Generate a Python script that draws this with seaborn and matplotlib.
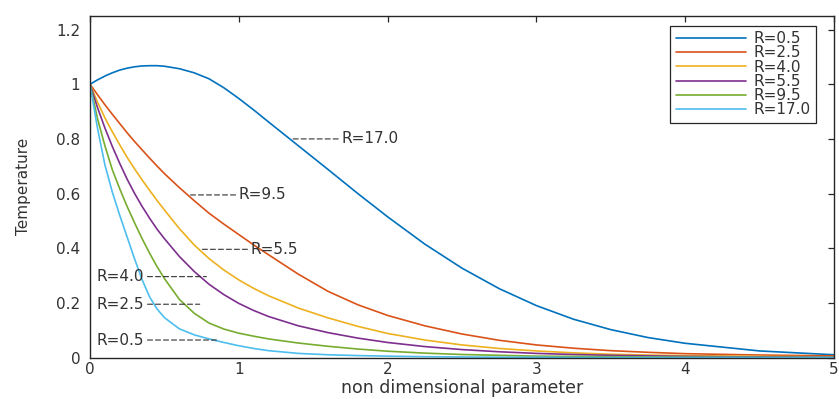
import numpy as np
import pandas as pd
import matplotlib
matplotlib.use("Agg")
import matplotlib.pyplot as plt
import seaborn as sns

# non dimensional parameter (shared abscissa of every profile)
x = [0, 0.05, 0.1, 0.15, 0.2, 0.25, 0.3, 0.35, 0.4, 0.45, 0.5, 0.6, 0.7, 0.8, 0.9,
     1.0, 1.1, 1.2, 1.4, 1.6, 1.8, 2.0, 2.25, 2.5, 2.75, 3.0, 3.25, 3.5, 3.75,
     4.0, 4.5, 5.0]

# temperature profiles, one per R value
temp_r05 = [1.0, 1.016, 1.03, 1.042, 1.052, 1.059, 1.064, 1.067, 1.068, 1.068, 1.066,
            1.057, 1.042, 1.02, 0.987, 0.948, 0.906, 0.862, 0.775, 0.688, 0.60,
            0.515, 0.415, 0.327, 0.252, 0.19, 0.14, 0.102, 0.073, 0.052, 0.024, 0.01]
temp_r25 = [1.0, 0.962, 0.925, 0.89, 0.856, 0.822, 0.79, 0.76, 0.73, 0.701, 0.673,
            0.622, 0.574, 0.528, 0.488, 0.45, 0.412, 0.376, 0.305, 0.242, 0.193,
            0.154, 0.116, 0.086, 0.063, 0.046, 0.034, 0.025, 0.019, 0.014, 0.009, 0.006]
temp_r40 = [1.0, 0.935, 0.877, 0.826, 0.778, 0.732, 0.69, 0.65, 0.612, 0.575, 0.54,
            0.472, 0.412, 0.362, 0.32, 0.284, 0.253, 0.226, 0.181, 0.145, 0.114,
            0.088, 0.064, 0.046, 0.033, 0.024, 0.017, 0.012, 0.009, 0.007, 0.004, 0.002]
temp_r55 = [1.0, 0.915, 0.84, 0.772, 0.71, 0.652, 0.60, 0.553, 0.51, 0.47, 0.435,
            0.37, 0.315, 0.268, 0.23, 0.198, 0.172, 0.15, 0.116, 0.091, 0.071,
            0.055, 0.04, 0.029, 0.021, 0.015, 0.011, 0.008, 0.006, 0.004, 0.002, 0.001]
temp_r95 = [1.0, 0.875, 0.775, 0.687, 0.617, 0.552, 0.492, 0.435, 0.382, 0.333, 0.289,
            0.213, 0.162, 0.126, 0.104, 0.089, 0.078, 0.068, 0.053, 0.041, 0.031,
            0.023, 0.016, 0.011, 0.008, 0.005, 0.004, 0.003, 0.002, 0.001, 0.0005, 0.0002]
temp_r170 = [1.0, 0.84, 0.705, 0.605, 0.52, 0.44, 0.36, 0.285, 0.222, 0.178, 0.146,
             0.105, 0.083, 0.068, 0.055, 0.043, 0.033, 0.025, 0.015, 0.01, 0.007,
             0.005, 0.003, 0.002, 0.001, 0.001, 0.0, 0.0, 0.0, 0.0, 0.0, 0.0]

labels = ["R=0.5", "R=2.5", "R=4.0", "R=5.5", "R=9.5", "R=17.0"]
series = [temp_r05, temp_r25, temp_r40, temp_r55, temp_r95, temp_r170]
colors = ["#0072BD", "#D95319", "#EDB120", "#7E2F8E", "#77AC30", "#4DBEEE"]

# in-plot callouts: text, y level, point the dashed leader reaches, text anchor x
callout_text = ["R=17.0", "R=9.5", "R=5.5", "R=4.0", "R=2.5", "R=0.5"]
callout_y = [0.80, 0.595, 0.396, 0.296, 0.195, 0.064]
leader_x = [1.365, 0.672, 0.75, 0.782, 0.737, 0.849]
text_x = [1.69, 1.0, 1.08, 0.045, 0.045, 0.045]

df = pd.concat(
    [pd.DataFrame({"x": x, "T": s, "R": lab}) for s, lab in zip(series, labels)],
    ignore_index=True,
)

sns.set_style("white")
plt.rcParams["font.family"] = ["DejaVu Sans"]
ink = "#262626"
txt_col = "#333333"

fig = plt.figure(figsize=(8.39, 3.99), dpi=100)
ax = fig.add_axes([0.1073, 0.104, 0.8867, 0.856])

sns.lineplot(data=df, x="x", y="T", hue="R", hue_order=labels,
             palette=colors, linewidth=1.2, ax=ax, legend=False)

for lab, col in zip(labels, colors):
    ax.plot([], [], color=col, linewidth=1.2, label=lab)

for t, yv, lx, tx in zip(callout_text, callout_y, leader_x, text_x):
    ax.annotate(t, xy=(lx, yv), xytext=(tx, yv), ha="left", va="center",
                fontsize=11, color=txt_col,
                arrowprops=dict(arrowstyle="-", color="#333333", lw=0.8,
                                linestyle=(0, (4.5, 2.7)), shrinkA=0, shrinkB=0))

ax.set_xlim(0, 5)
ax.set_ylim(0, 1.25)
ax.set_xticks([0, 1, 2, 3, 4, 5])
ax.set_xticklabels(["0", "1", "2", "3", "4", "5"])
ax.set_yticks([0, 0.2, 0.4, 0.6, 0.8, 1.0, 1.2])
ax.set_yticklabels(["0", "0.2", "0.4", "0.6", "0.8", "1", "1.2"])
ax.tick_params(direction="in", length=4, width=0.9, top=True, right=True,
               labelsize=11, colors=ink, labelcolor=txt_col)
ax.tick_params(axis="y", pad=7)
ax.tick_params(axis="x", pad=3)
for sp in ax.spines.values():
    sp.set_color(ink)
    sp.set_linewidth(1.0)

ax.set_xlabel("non dimensional parameter", fontsize=12.5, color=txt_col, labelpad=2)
ax.set_ylabel("Temperature", fontsize=11, color=txt_col, labelpad=18)

leg = ax.legend(loc="upper right", bbox_to_anchor=(0.976, 0.971), fontsize=11,
                handlelength=4.6, handletextpad=0.5, labelspacing=-0.05,
                borderpad=0.35, borderaxespad=0, fancybox=False, framealpha=1,
                edgecolor=ink)
leg.get_frame().set_linewidth(0.9)
for txt in leg.get_texts():
    txt.set_color(txt_col)

fig.savefig("out.png", dpi=100)
